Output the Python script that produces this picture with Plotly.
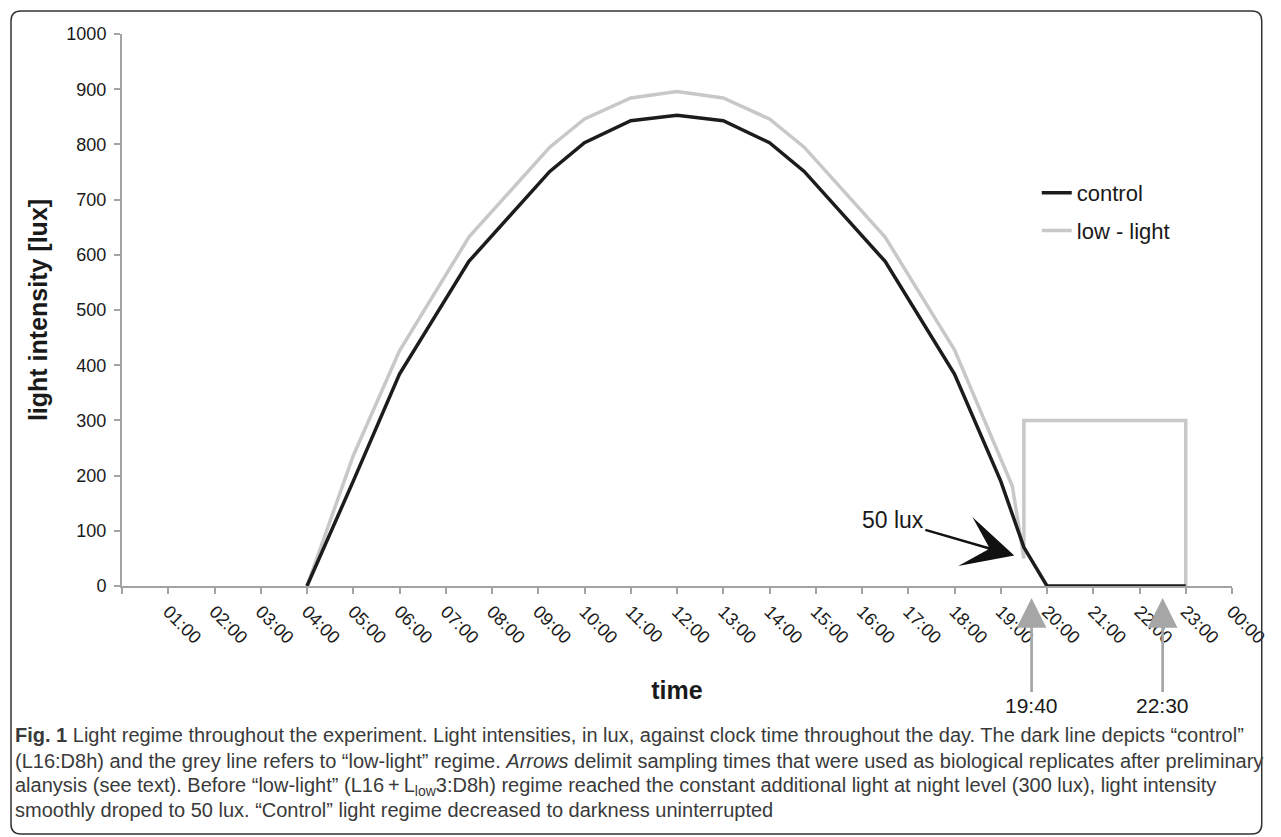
import plotly.graph_objects as go

# ---------------- data ----------------
control_times = [4, 5, 6, 7.5, 9.25, 10, 11, 12, 13, 14, 14.75, 16.5, 18, 19, 19.5, 20, 23]
control_lux = [0, 190, 384, 588, 751, 803, 843, 853, 843, 803, 751, 588, 384, 190, 70, 0, 0]

lowlight_times = [4, 5, 6, 7.5, 9.25, 10, 11, 12, 13, 14, 14.75, 16.5, 18, 19, 19.25, 19.5, 19.5, 23, 23]
lowlight_lux = [0, 236, 426, 632, 795, 846, 884, 896, 884, 846, 795, 632, 428, 232, 181, 50, 300, 300, 0]

hour_ticks = [1, 2, 3, 4, 5, 6, 7, 8, 9, 10, 11, 12, 13, 14, 15, 16, 17, 18, 19, 20, 21, 22, 23, 24]
hour_labels = ["01:00", "02:00", "03:00", "04:00", "05:00", "06:00", "07:00", "08:00",
               "09:00", "10:00", "11:00", "12:00", "13:00", "14:00", "15:00", "16:00",
               "17:00", "18:00", "19:00", "20:00", "21:00", "22:00", "23:00", "00:00"]
origin_tick = [0]

sample_times = [19 + 40 / 60, 22.5]
sample_labels = ["19:40", "22:30"]

dip_time = 19.5
dip_lux = 50
dip_label = "50 lux"

caption_lines = [
    "<b>Fig. 1</b> Light regime throughout the experiment. Light intensities, in lux, against clock time throughout the day. The dark line depicts \u201ccontrol\u201d",
    "(L16:D8h) and the grey line refers to \u201clow-light\u201d regime. <i>Arrows</i> delimit sampling times that were used as biological replicates after preliminary",
    "alanysis (see text). Before \u201clow-light\u201d (L16\u2009+\u2009L<sub>low</sub>3:D8h) regime reached the constant additional light at night level (300 lux), light intensity",
    "smoothly droped to 50 lux. \u201cControl\u201d light regime decreased to darkness uninterrupted",
]

# ---------------- layout geometry (pixels) ----------------
W, H = 1281, 837
L, R, T, B = 122, 39, 34, 251
PW = W - L - R
PH = H - T - B
X0_PX = L
Y0_PX = H - B


def px_x(px):
    return (px - X0_PX) / PW


def px_y(py):
    return (Y0_PX - py) / PH


FONT = "Liberation Sans, Arial, sans-serif"
AXIS_GREY = "#a3a3a3"

fig = go.Figure()

fig.add_trace(go.Scatter(
    x=lowlight_times, y=lowlight_lux, mode="lines", name="low - light",
    line=dict(color="#c8c8c8", width=3.5), cliponaxis=False,
    legendgroup="b", legendrank=2,
))
fig.add_trace(go.Scatter(
    x=control_times, y=control_lux, mode="lines", name="control",
    line=dict(color="#1c1c1c", width=3.5), cliponaxis=False,
    legendgroup="a", legendrank=1,
))

annotations = []
# sampling arrows
for t, lab in zip(sample_times, sample_labels):
    annotations.append(dict(
        x=t, xref="x", y=px_y(598), yref="paper", ax=0, ay=107,
        text=lab, showarrow=True, arrowhead=2, arrowsize=2.2, arrowwidth=2.7,
        arrowcolor="#a6a6a6", font=dict(family=FONT, size=21, color="#1a1a1a"),
    ))
# 50 lux arrow
annotations.append(dict(
    x=dip_time, y=dip_lux, xref="x", yref="y", ax=-131, ay=-38,
    text=dip_label, showarrow=True, arrowhead=3, arrowsize=3.4, arrowwidth=2.5,
    arrowcolor="#111111", standoff=10,
    font=dict(family=FONT, size=23, color="#1a1a1a"),
))
# caption
caption_y = [735, 761, 786, 810]
for line, cy in zip(caption_lines, caption_y):
    annotations.append(dict(
        x=px_x(12), y=px_y(cy), xref="paper", yref="paper", xanchor="left", yanchor="middle",
        text=line, showarrow=False,
        font=dict(family=FONT, size=20, color="#3a3a3a"),
    ))

# rounded frame
r = 10
lft, rgt, top, bot = 10, 1272, 11, 834
path = (
    f"M {px_x(lft + r)},{px_y(top)} L {px_x(rgt - r)},{px_y(top)} "
    f"Q {px_x(rgt)},{px_y(top)} {px_x(rgt)},{px_y(top + r)} "
    f"L {px_x(rgt)},{px_y(bot - r)} Q {px_x(rgt)},{px_y(bot)} {px_x(rgt - r)},{px_y(bot)} "
    f"L {px_x(lft + r)},{px_y(bot)} Q {px_x(lft)},{px_y(bot)} {px_x(lft)},{px_y(bot - r)} "
    f"L {px_x(lft)},{px_y(top + r)} Q {px_x(lft)},{px_y(top)} {px_x(lft + r)},{px_y(top)} Z"
)

fig.update_layout(
    width=W, height=H,
    margin=dict(l=L, r=R, t=T, b=B, pad=0),
    paper_bgcolor="white", plot_bgcolor="white",
    font=dict(family=FONT, color="#1a1a1a"),
    showlegend=True,
    legend=dict(
        x=px_x(1045), y=px_y(172), xanchor="left", yanchor="top",
        bgcolor="rgba(0,0,0,0)", borderwidth=0,
        font=dict(family=FONT, size=22, color="#1a1a1a"),
        traceorder="grouped", tracegroupgap=6,
    ),
    xaxis=dict(
        range=[0, 24], tickmode="array", tickvals=hour_ticks, ticktext=hour_labels,
        tickangle=45, showline=True, linecolor=AXIS_GREY, linewidth=2,
        ticks="outside", ticklen=6, tickwidth=1.5, tickcolor=AXIS_GREY,
        minor=dict(tickmode="array", tickvals=origin_tick, ticks="outside", ticklen=6,
                   tickwidth=1.5, tickcolor=AXIS_GREY, showgrid=False),
        showgrid=False, zeroline=False,
        tickfont=dict(family=FONT, size=18, color="#1a1a1a"),
        title=dict(text="<b>time</b>", font=dict(family=FONT, size=25, color="#1a1a1a"), standoff=35),
    ),
    yaxis=dict(
        range=[0, 1000], dtick=100, showline=True, linecolor=AXIS_GREY, linewidth=2,
        ticks="outside", ticklen=6, tickwidth=1.5, tickcolor=AXIS_GREY,
        showgrid=False, zeroline=False, ticklabelstandoff=4,
        tickfont=dict(family=FONT, size=18, color="#1a1a1a"),
        title=dict(text="<b>light intensity [lux]</b>", font=dict(family=FONT, size=25, color="#1a1a1a"), standoff=12),
    ),
    annotations=annotations,
    shapes=[dict(type="path", path=path, xref="paper", yref="paper",
                 line=dict(color="#333333", width=1.5), layer="above")],
)

fig.write_html(
    "out.html",
    config={"displayModeBar": False},
    post_script="document.body.style.margin='0';document.body.style.overflow='hidden';",
)
